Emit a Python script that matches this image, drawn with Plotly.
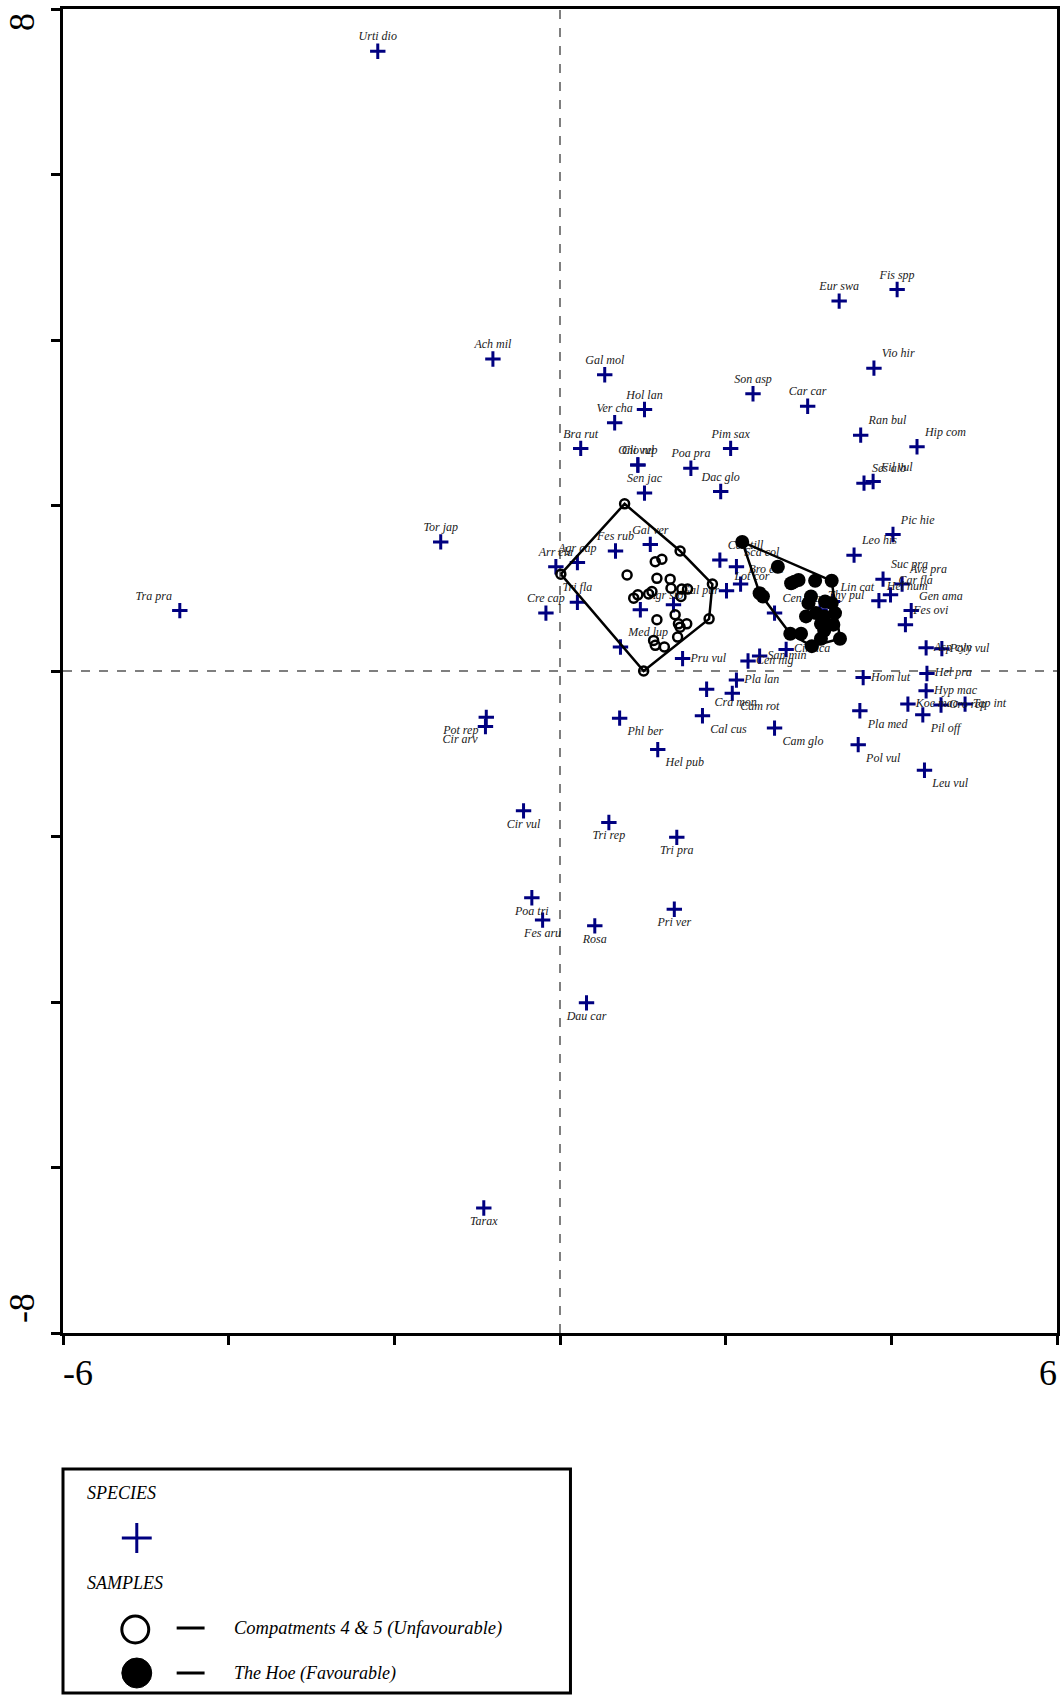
import plotly.graph_objects as go

# ---------------- data ----------------
species_names = [
    "Urti dio", "Ach mil", "Gal mol", "Eur swa", "Fis spp", "Vio hir", "Son asp", "Car car",
    "Hol lan", "Ver cha", "Bra rut", "Cli vul", "Ono rep", "Poa pra", "Pim sax", "Ran bul",
    "Hip com", "Dac glo", "Sen jac", "Ses alb", "Fil vul", "Pic hie", "Leo his", "Suc pra",
    "Ave pra", "Car fla", "Hel num", "Gen ama", "Fes ovi", "Tor jap", "Tra pra", "Arr ela",
    "Agr cap", "Tri fla", "Cre cap", "Fes rub", "Gal ver", "Agr sto", "Gal pur", "Med lup",
    "Pru vul", "Cen nig", "San min", "Cir aca", "Pla lan", "Cra mon", "Cam rot", "Phl ber",
    "Cal cus", "Cam glo", "Hel pub", "Cen till", "Sca col", "Bro ere", "Lot cor", "Cen sca",
    "Lin cat", "Thy pul", "Asp cyn", "Poly vul", "Hom lut", "Hel pra", "Hyp mac", "Koe mac",
    "Oro rep", "Tap int", "Pil off", "Pla med", "Pol vul", "Leu vul", "Pot rep", "Cir arv",
    "Cir vul", "Tri rep", "Tri pra", "Poa tri", "Fes aru", "Rosa", "Pri ver", "Dau car", "Tarax",
]
species_x = [
    -2.20, -0.81, 0.54, 3.37, 4.07, 3.79, 2.33, 2.99,
    1.02, 0.66, 0.25, 0.94, 0.94, 1.58, 2.06, 3.63,
    4.31, 1.94, 1.02, 3.67, 3.78, 4.02, 3.55, 3.90,
    4.13, 3.99, 3.85, 4.24, 4.17, -1.44, -4.59, -0.05,
    0.21, 0.21, -0.17, 0.67, 1.09, 0.97, 1.37, 0.73,
    1.48, 2.27, 2.41, 2.73, 2.13, 1.77, 2.08, 0.72,
    1.72, 2.59, 1.18, 1.93, 2.13, 2.18, 2.01, 2.59,
    3.29, 3.14, 4.42, 4.61, 3.66, 4.43, 4.42, 4.20,
    4.60, 4.89, 4.38, 3.62, 3.60, 4.40, -0.89, -0.90,
    -0.44, 0.59, 1.41, -0.34, -0.21, 0.42, 1.38, 0.32, -0.92,
]
species_y = [
    7.49, 3.77, 3.58, 4.47, 4.61, 3.66, 3.35, 3.20,
    3.16, 3.00, 2.69, 2.49, 2.49, 2.45, 2.69, 2.85,
    2.71, 2.17, 2.15, 2.27, 2.29, 1.65, 1.40, 1.11,
    1.05, 0.92, 0.85, 0.73, 0.56, 1.56, 0.73, 1.26,
    1.31, 0.83, 0.70, 1.45, 1.53, 0.74, 0.80, 0.29,
    0.15, 0.12, 0.18, 0.26, -0.11, -0.22, -0.27, -0.57,
    -0.54, -0.69, -0.95, 1.34, 1.26, 1.05, 0.97, 0.70,
    0.84, 0.74, 0.28, 0.27, -0.08, -0.03, -0.24, -0.40,
    -0.41, -0.40, -0.53, -0.48, -0.89, -1.20, -0.56, -0.67,
    -1.69, -1.83, -2.01, -2.74, -3.01, -3.08, -2.88, -4.01, -6.49,
]

# Compartments 4 & 5 (Unfavourable) sample scores
open_x = [0.78, 1.45, 1.84, 1.80, 1.01, 0.01, 1.15, 1.23, 0.81, 1.17, 1.33, 1.34, 1.47, 1.54,
          1.46, 0.89, 0.94, 1.07, 1.11, 1.17, 1.39, 1.43, 1.53, 1.42, 1.13, 1.15, 1.26, 1.45]
open_y = [2.02, 1.45, 1.05, 0.63, 0.00, 1.17, 1.32, 1.35, 1.16, 1.12, 1.11, 1.00, 0.99, 0.99,
          0.90, 0.88, 0.92, 0.93, 0.96, 0.62, 0.68, 0.57, 0.57, 0.41, 0.37, 0.31, 0.29, 0.53]

# The Hoe (Favourable) sample scores
fill_x = [2.20, 3.28, 3.38, 3.04, 2.78, 2.41, 2.45, 2.63, 2.79, 2.88, 2.83, 3.08, 3.03,
          3.00, 3.20, 3.28, 3.32, 2.97, 3.09, 3.19, 3.15, 3.30, 3.19, 2.91, 3.15]
fill_y = [1.56, 1.09, 0.39, 0.30, 0.45, 0.94, 0.90, 1.26, 1.06, 1.10, 1.08, 1.09, 0.90,
          0.82, 0.84, 0.82, 0.70, 0.66, 0.70, 0.66, 0.57, 0.56, 0.49, 0.45, 0.39]

x_ticks = [-6, -4, -2, 0, 2, 4, 6]
y_ticks = [-8, -6, -4, -2, 0, 2, 4, 6, 8]
x_tick_labels = ["-6", "6"]
y_tick_labels = ["-8", "8"]

# ---------------- label placement (style) ----------------
TC, TR, TL, MR, BR, BC, BL = ("top center", "top right", "top left", "middle right",
                              "bottom right", "bottom center", "bottom left")
label_pos = {
    "Vio hir": TR, "Ran bul": TR, "Hip com": TR, "Ses alb": TR, "Fil vul": TR, "Pic hie": TR,
    "Leo his": TR, "Suc pra": TR, "Ave pra": TR, "Car fla": TR, "Hel num": TR, "Gen ama": TR,
    "Fes ovi": TR, "Tra pra": TL, "Agr sto": TR, "Gal pur": TR, "Med lup": TR,
    "Pru vul": MR, "Cen nig": MR, "San min": MR, "Cir aca": MR, "Pla lan": MR,
    "Cra mon": BR, "Cam rot": BR, "Phl ber": BR, "Cal cus": BR, "Cam glo": BR, "Hel pub": BR,
    "Cen till": TR, "Sca col": TR, "Bro ere": TR, "Lot cor": TR, "Cen sca": TR, "Lin cat": TR,
    "Thy pul": TR, "Asp cyn": MR, "Poly vul": MR, "Hom lut": MR, "Hel pra": MR, "Hyp mac": MR,
    "Koe mac": MR, "Oro rep": MR, "Tap int": MR, "Pil off": BR, "Pla med": BR, "Pol vul": BR,
    "Leu vul": BR, "Pot rep": BL, "Cir arv": BL, "Cir vul": BC, "Tri rep": BC, "Tri pra": BC,
    "Poa tri": BC, "Fes aru": BC, "Rosa": BC, "Pri ver": BC, "Dau car": BC, "Tarax": BC,
}
positions = [label_pos.get(n, TC) for n in species_names]

SERIF = "Liberation Serif, Times New Roman, serif"
NAVY = "#000080"


def convex_hull(xs, ys):
    pts = sorted(set(zip(xs, ys)))

    def cross(o, a, b):
        return (a[0] - o[0]) * (b[1] - o[1]) - (a[1] - o[1]) * (b[0] - o[0])

    lower = []
    for p in pts:
        while len(lower) >= 2 and cross(lower[-2], lower[-1], p) <= 0:
            lower.pop()
        lower.append(p)
    upper = []
    for p in reversed(pts):
        while len(upper) >= 2 and cross(upper[-2], upper[-1], p) <= 0:
            upper.pop()
        upper.append(p)
    h = lower[:-1] + upper[:-1]
    h.append(h[0])
    return [p[0] for p in h], [p[1] for p in h]


fig = go.Figure()

fig.add_trace(go.Scatter(
    x=species_x, y=species_y, mode="markers+text",
    text=["<i>%s</i>" % n for n in species_names], textposition=positions,
    textfont=dict(family=SERIF, size=12, color="#1a1a1a"),
    marker=dict(symbol="cross-thin", size=11, line=dict(width=3, color=NAVY), color=NAVY),
    hoverinfo="text", showlegend=False,
))

for xs, ys in ((open_x, open_y), (fill_x, fill_y)):
    hx, hy = convex_hull(xs, ys)
    fig.add_trace(go.Scatter(x=hx, y=hy, mode="lines", line=dict(color="black", width=2.5),
                             hoverinfo="skip", showlegend=False))

fig.add_trace(go.Scatter(
    x=open_x, y=open_y, mode="markers",
    marker=dict(symbol="circle-open", size=9, color="black", line=dict(width=2.5, color="black")),
    showlegend=False,
))
fig.add_trace(go.Scatter(
    x=fill_x, y=fill_y, mode="markers",
    marker=dict(symbol="circle", size=14, color="black"),
    showlegend=False,
))

# ---------------- layout ----------------
W, H = 1064, 1695
ML, MR_, MT, MB = 63, 4, 9, 362
X0, X1 = ML, W - MR_
Y0, Y1 = MT, H - MB


def px(v):
    return (v - X0) / (X1 - X0)


def py(v):
    return (Y1 - v) / (Y1 - Y0)


shapes = [
    dict(type="line", xref="x", yref="y", x0=0, x1=0, y0=-8, y1=8,
         line=dict(color="#555555", width=1.5, dash="dash"), layer="below"),
    dict(type="line", xref="x", yref="y", x0=-6, x1=6, y0=0, y1=0,
         line=dict(color="#555555", width=1.5, dash="dash"), layer="below"),
]


def pline(xa, ya, xb, yb, color="black", width=3):
    return dict(type="line", xref="paper", yref="paper", x0=px(xa), x1=px(xb), y0=py(ya), y1=py(yb),
                line=dict(color=color, width=width))


shapes += [
    dict(type="rect", xref="paper", yref="paper", x0=px(63), x1=px(572), y0=py(1693), y1=py(1469),
         line=dict(color="black", width=3), fillcolor="rgba(0,0,0,0)"),
    pline(122, 1538, 152, 1538, NAVY, 3),
    pline(137, 1523, 137, 1553, NAVY, 3),
    dict(type="circle", xref="paper", yref="paper", x0=px(122), x1=px(149), y0=py(1643), y1=py(1616),
         line=dict(color="black", width=3), fillcolor="white"),
    dict(type="circle", xref="paper", yref="paper", x0=px(122), x1=px(152), y0=py(1688), y1=py(1658),
         line=dict(color="black", width=1), fillcolor="black"),
    pline(177, 1628, 205, 1628),
    pline(177, 1673, 205, 1673),
]

ann = []


def add_text(text, xp, yp, size, xanchor="center", angle=0, italic=False):
    t = "<i>%s</i>" % text if italic else text
    ann.append(dict(text=t, xref="paper", yref="paper", x=px(xp), y=py(yp), xanchor=xanchor,
                    yanchor="middle", showarrow=False, textangle=angle,
                    font=dict(family=SERIF, size=size, color="black")))


add_text(x_tick_labels[0], 78, 1373, 36)
add_text(x_tick_labels[1], 1051, 1373, 36)
add_text(y_tick_labels[1], 22, 22, 36, angle=-90)
add_text(y_tick_labels[0], 22, 1308, 36, angle=-90)

add_text("SPECIES", 85, 1493, 18, xanchor="left", italic=True)
add_text("SAMPLES", 85, 1583, 18, xanchor="left", italic=True)
add_text("Compatments 4 &amp; 5 (Unfavourable)", 233, 1628, 18.5, xanchor="left", italic=True)
add_text("The Hoe (Favourable)", 233, 1673, 18, xanchor="left", italic=True)

axis_common = dict(showgrid=False, zeroline=False, showline=True, linewidth=3, linecolor="black",
                   mirror=True, ticks="outside", ticklen=9, tickwidth=2.5, tickcolor="black",
                   showticklabels=False)

fig.update_layout(
    width=W, height=H, margin=dict(l=ML, r=MR_, t=MT, b=MB),
    paper_bgcolor="white", plot_bgcolor="white",
    xaxis=dict(range=[-6, 6], tickvals=x_ticks, **axis_common),
    yaxis=dict(range=[-8, 8], tickvals=y_ticks, **axis_common),
    shapes=shapes, annotations=ann, showlegend=False,
)

fig.write_html("out.html")
